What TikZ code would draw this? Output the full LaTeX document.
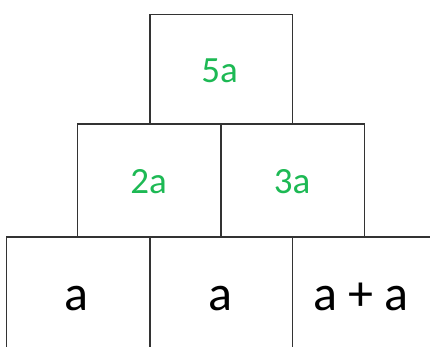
\documentclass[tikz,border=0pt]{standalone}
\usepackage{fontspec}
\setmainfont{Carlito}
\definecolor{boxline}{HTML}{333333}
\definecolor{greentxt}{HTML}{1DB954}
\tikzset{
  cell/.style={draw=boxline, line width=1.3pt, rectangle, inner sep=0pt, anchor=south west},
  greenlbl/.style={anchor=base, inner sep=0pt, text=greentxt, font=\fontsize{37}{40}\selectfont},
  blacklbl/.style={anchor=base, inner sep=0pt, text=black, font=\fontsize{50}{54}\selectfont}
}
\begin{document}
\begin{tikzpicture}[x=1pt,y=1pt]
\useasboundingbox (0,0) rectangle (430,347);
\clip (0,0) rectangle (430,347);
\fill[white] (0,0) rectangle (430,347);
% bottom row
\node[cell, minimum width=143.3pt, minimum height=115pt] (b1) at (6,-5.7) {};
\node[cell, minimum width=142.4pt, minimum height=115pt] (b2) at (149.3,-5.7) {};
\node[cell, minimum width=160pt, minimum height=115pt] (b3) at (291.7,-5.7) {};
% middle row
\node[cell, minimum width=143.3pt, minimum height=113pt] (m1) at (77,109.3) {};
\node[cell, minimum width=143.4pt, minimum height=113pt] (m2) at (220.3,109.3) {};
% top
\node[cell, minimum width=142.4pt, minimum height=109.2pt] (t1) at (149.3,222.3) {};
% labels
\node[greenlbl] (l5a) at (219.5,264.3) {5a};
\node[greenlbl] (l2a) at (148.5,153) {2a};
\node[greenlbl] (l3a) at (292,153) {3a};
\node[blacklbl] (la1) at (76,36.3) {a};
\node[blacklbl] (la2) at (220.5,36.3) {a};
\node[blacklbl] (la3) at (361,36.3) {a + a};
\end{tikzpicture}
\end{document}
